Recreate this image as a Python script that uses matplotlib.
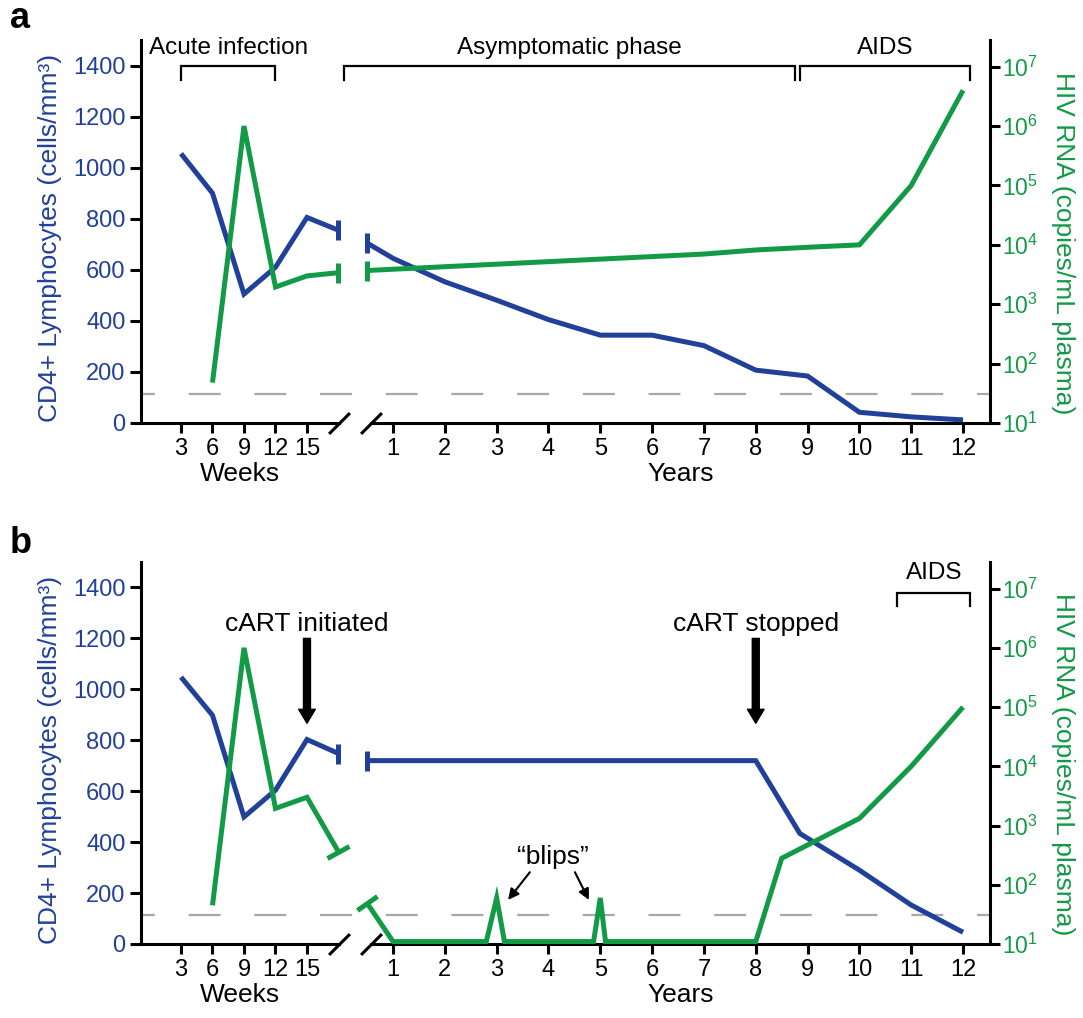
import numpy as np
import matplotlib
matplotlib.use('Agg')
import matplotlib.pyplot as plt
from matplotlib.markers import MarkerStyle
from matplotlib.transforms import Affine2D

plt.rcParams['font.family'] = ['Liberation Sans', 'DejaVu Sans']
plt.rcParams['mathtext.fontset'] = 'custom'
plt.rcParams['mathtext.rm'] = 'Liberation Sans'
plt.rcParams['lines.scale_dashes'] = False

BLUE = '#21409a'
GREEN = '#129a46'

#=========================== Du lieu (doc tu hinh) ===========================#
week_ticks = [3, 6, 9, 12, 15]
year_ticks = list(range(1, 13))
cd4_ticks = [0, 200, 400, 600, 800, 1000, 1200, 1400]
rna_ticks = [1e1, 1e2, 1e3, 1e4, 1e5, 1e6, 1e7]
rna_labels = [r'$\mathregular{10^{%d}}$' % k for k in range(1, 8)]
dash_level = 112          # duong ngang mau xam (theo truc CD4)

# panel a - khong dieu tri
a_cd4_weeks = [3, 6, 9, 12, 15, 18]
a_cd4_w = [1055, 900, 505, 610, 805, 755]
a_cd4_years = [0.5, 1, 2, 3, 4, 5, 6, 7, 8, 9, 10, 11, 12]
a_cd4_y = [705, 645, 553, 481, 405, 344, 344, 303, 207, 184, 42, 24, 12]
a_rna_weeks = [6, 9, 12, 15, 18]
a_rna_w = [48, 1e6, 1950, 3000, 3400]
a_rna_years = [0.5, 7, 8, 9, 10, 11, 12]
a_rna_y = [3700, 7000, 8200, 9100, 1e4, 1e5, 4e6]

# panel b - co cART
b_cd4_weeks = [3, 6, 9, 12, 15, 18]
b_cd4_w = [1048, 898, 499, 604, 803, 748]
b_cd4_years = [0.5, 8, 8.85, 10, 11, 12]
b_cd4_y = [720, 720, 434, 290, 153, 46]
b_rna_weeks = [6, 9, 12, 15, 18]
b_rna_w = [45, 1e6, 1950, 3000, 360]
b_rna_years = [0.5, 1, 2.8, 3, 3.15, 4.87, 5, 5.1, 8, 8.5, 10, 11, 12]
b_rna_y = [49, 11, 11, 60, 11, 11, 60, 11, 11, 280, 1320, 1e4, 1e5]

#=========================== Bo cuc ===========================#
W, H = 1083, 1018
fig = plt.figure(figsize=(W / 100, H / 100), dpi=100)

LW_LINE = 3.6
LW_AX = 2.2
WEEK_LIM = (-0.81, 18.05)
YEAR_LIM = (0.575, 12.52)
CD4_LIM = (0, 1500)
RNA_LIM = (10, 10 ** 7.45)


def fx(px):
    return px / W


def make_panel(bottom_px, top_px):
    b = 1 - bottom_px / H
    h = (bottom_px - top_px) / H
    ax_w = fig.add_axes([fx(141), b, fx(339 - 141), h])
    ax_y = fig.add_axes([fx(371), b, fx(990 - 371), h])
    ax_w2 = ax_w.twinx()
    ax_y2 = ax_y.twinx()
    for ax in (ax_w, ax_y, ax_w2, ax_y2):
        ax.patch.set_visible(False)
        for s in ax.spines.values():
            s.set_visible(False)
            s.set_linewidth(LW_AX)
    ax_w.set_xlim(*WEEK_LIM)
    ax_y.set_xlim(*YEAR_LIM)
    for ax in (ax_w, ax_y):
        ax.set_ylim(*CD4_LIM)
        ax.spines['bottom'].set_visible(True)
    for ax in (ax_w2, ax_y2):
        ax.set_yscale('log')
        ax.set_ylim(*RNA_LIM)
        ax.minorticks_off()
    ax_w.spines['left'].set_visible(True)
    ax_y2.spines['right'].set_visible(True)

    # truc x
    ax_w.set_xticks(week_ticks)
    ax_y.set_xticks(year_ticks)
    for ax in (ax_w, ax_y):
        ax.tick_params(axis='x', length=7, width=LW_AX, pad=3.5, labelsize=17)
    ax_w.set_xlabel('Weeks', fontsize=19, labelpad=2)
    ax_y.set_xlabel('Years', fontsize=19, labelpad=2)

    # truc CD4 (trai)
    ax_w.set_yticks(cd4_ticks)
    ax_w.tick_params(axis='y', length=8, width=LW_AX, pad=3, labelsize=17, labelcolor=BLUE)
    ax_w.set_ylabel('CD4+ Lymphocytes (cells/mm³)', color=BLUE, fontsize=19, va='center')
    ax_w.yaxis.set_label_coords((50 - 141) / 198, 0.483)
    ax_y.set_yticks([])
    ax_w2.set_yticks([])

    # truc HIV RNA (phai)
    ax_y2.set_yticks(rna_ticks)
    ax_y2.set_yticklabels(rna_labels)
    ax_y2.tick_params(axis='y', length=7.5, width=LW_AX, pad=1.5, labelsize=16.5, labelcolor=GREEN)
    ax_y2.set_ylabel('HIV RNA (copies/mL plasma)', color=GREEN, fontsize=19,
                     rotation=270, va='center')
    ax_y2.yaxis.set_label_coords((1063 - 371) / 619, 0.47)

    # dau gach truc bi ngat
    kw = dict(marker=[(-1, -1), (1, 1)], markersize=15, linestyle='none',
              color='k', mec='k', mew=LW_AX, clip_on=False)
    ax_w.plot([1], [0], transform=ax_w.transAxes, **kw)
    ax_y.plot([0], [0], transform=ax_y.transAxes, **kw)

    # duong ngang net dut xam keo suot ca hai doan truc
    x_end = ax_w.transData.inverted().transform(ax_y.transAxes.transform((1, 0)))[0]
    ax_w.plot([WEEK_LIM[0], x_end], [dash_level, dash_level], color='#a8a8a8', lw=1.6,
              linestyle=(13, (23, 24.3)), clip_on=False, zorder=1)
    return ax_w, ax_y, ax_w2, ax_y2


def cap(ax, xs, ys, end, color, tilt):
    # nap chu T o dau doan bi ngat
    i0, i1 = (-2, -1) if end == 'last' else (1, 0)
    if tilt:
        p0 = ax.transData.transform((xs[i0], ys[i0]))
        p1 = ax.transData.transform((xs[i1], ys[i1]))
        ang = np.degrees(np.arctan2(p1[1] - p0[1], p1[0] - p0[0]))
        m = MarkerStyle('|', transform=Affine2D().rotate_deg(ang))
        size = 18
    else:
        m = '|'
        size = 14
    ax.plot([xs[i1]], [ys[i1]], marker=m, markersize=size, mew=LW_LINE, color=color,
            linestyle='none', clip_on=False, zorder=3)


def series(ax, xs, ys, color, end, tilt=False):
    ax.plot(xs, ys, color=color, lw=LW_LINE, solid_joinstyle='miter',
            solid_capstyle='butt', clip_on=False, zorder=3)
    cap(ax, xs, ys, end, color, tilt)


def bracket(ax, x0, x1, ytop, yleg, label, ytext):
    ax.plot([x0, x0, x1, x1], [yleg, ytop, ytop, yleg], color='k', lw=1.6,
            solid_joinstyle='miter', clip_on=False)
    ax.text((x0 + x1) / 2, ytext, label, ha='center', va='center', fontsize=17.5)


#=========================== Panel a ===========================#
aw, ay, aw2, ay2 = make_panel(423, 40)
series(aw2, a_rna_weeks, a_rna_w, GREEN, 'last')
series(ay2, a_rna_years, a_rna_y, GREEN, 'first')
series(aw, a_cd4_weeks, a_cd4_w, BLUE, 'last')
series(ay, a_cd4_years, a_cd4_y, BLUE, 'first')

bracket(aw, 3, 12, 1400, 1342, 'Acute infection', 1470)
bracket(ay, 0.05, 8.76, 1400, 1342, 'Asymptomatic phase', 1470)
bracket(ay, 8.86, 12.14, 1400, 1342, 'AIDS', 1470)

fig.text(fx(20), 1 - 28 / H, 'a', fontsize=26, fontweight='bold', ha='center', va='baseline')

#=========================== Panel b ===========================#
bw, by, bw2, by2 = make_panel(944, 562)
series(bw2, b_rna_weeks, b_rna_w, GREEN, 'last', tilt=True)
series(by2, b_rna_years, b_rna_y, GREEN, 'first', tilt=True)
series(bw, b_cd4_weeks, b_cd4_w, BLUE, 'last')
series(by, b_cd4_years, b_cd4_y, BLUE, 'first')

bracket(by, 10.73, 12.14, 1380, 1329, 'AIDS', 1458)

big_arrow = dict(facecolor='black', edgecolor='black', width=5, headwidth=12,
                 headlength=10, shrink=0)
bw.annotate('', xy=(15, 867), xytext=(15, 1200), arrowprops=big_arrow, annotation_clip=False)
bw.text(15, 1258, 'cART initiated', ha='center', va='center', fontsize=19)
by.annotate('', xy=(8, 867), xytext=(8, 1200), arrowprops=big_arrow, annotation_clip=False)
by.text(8, 1258, 'cART stopped', ha='center', va='center', fontsize=19)

by.text(4.09, 341, '\u201cblips\u201d', ha='center', va='center', fontsize=19)
thin = dict(arrowstyle='-|>', color='black', lw=1.5, mutation_scale=16, shrinkA=0, shrinkB=0)
by.annotate('', xy=(3.22, 173), xytext=(3.64, 282), arrowprops=thin)
by.annotate('', xy=(4.78, 173), xytext=(4.51, 282), arrowprops=thin)

fig.text(fx(21), 1 - 553 / H, 'b', fontsize=26, fontweight='bold', ha='center', va='baseline')

plt.savefig('out.png', dpi=100)
